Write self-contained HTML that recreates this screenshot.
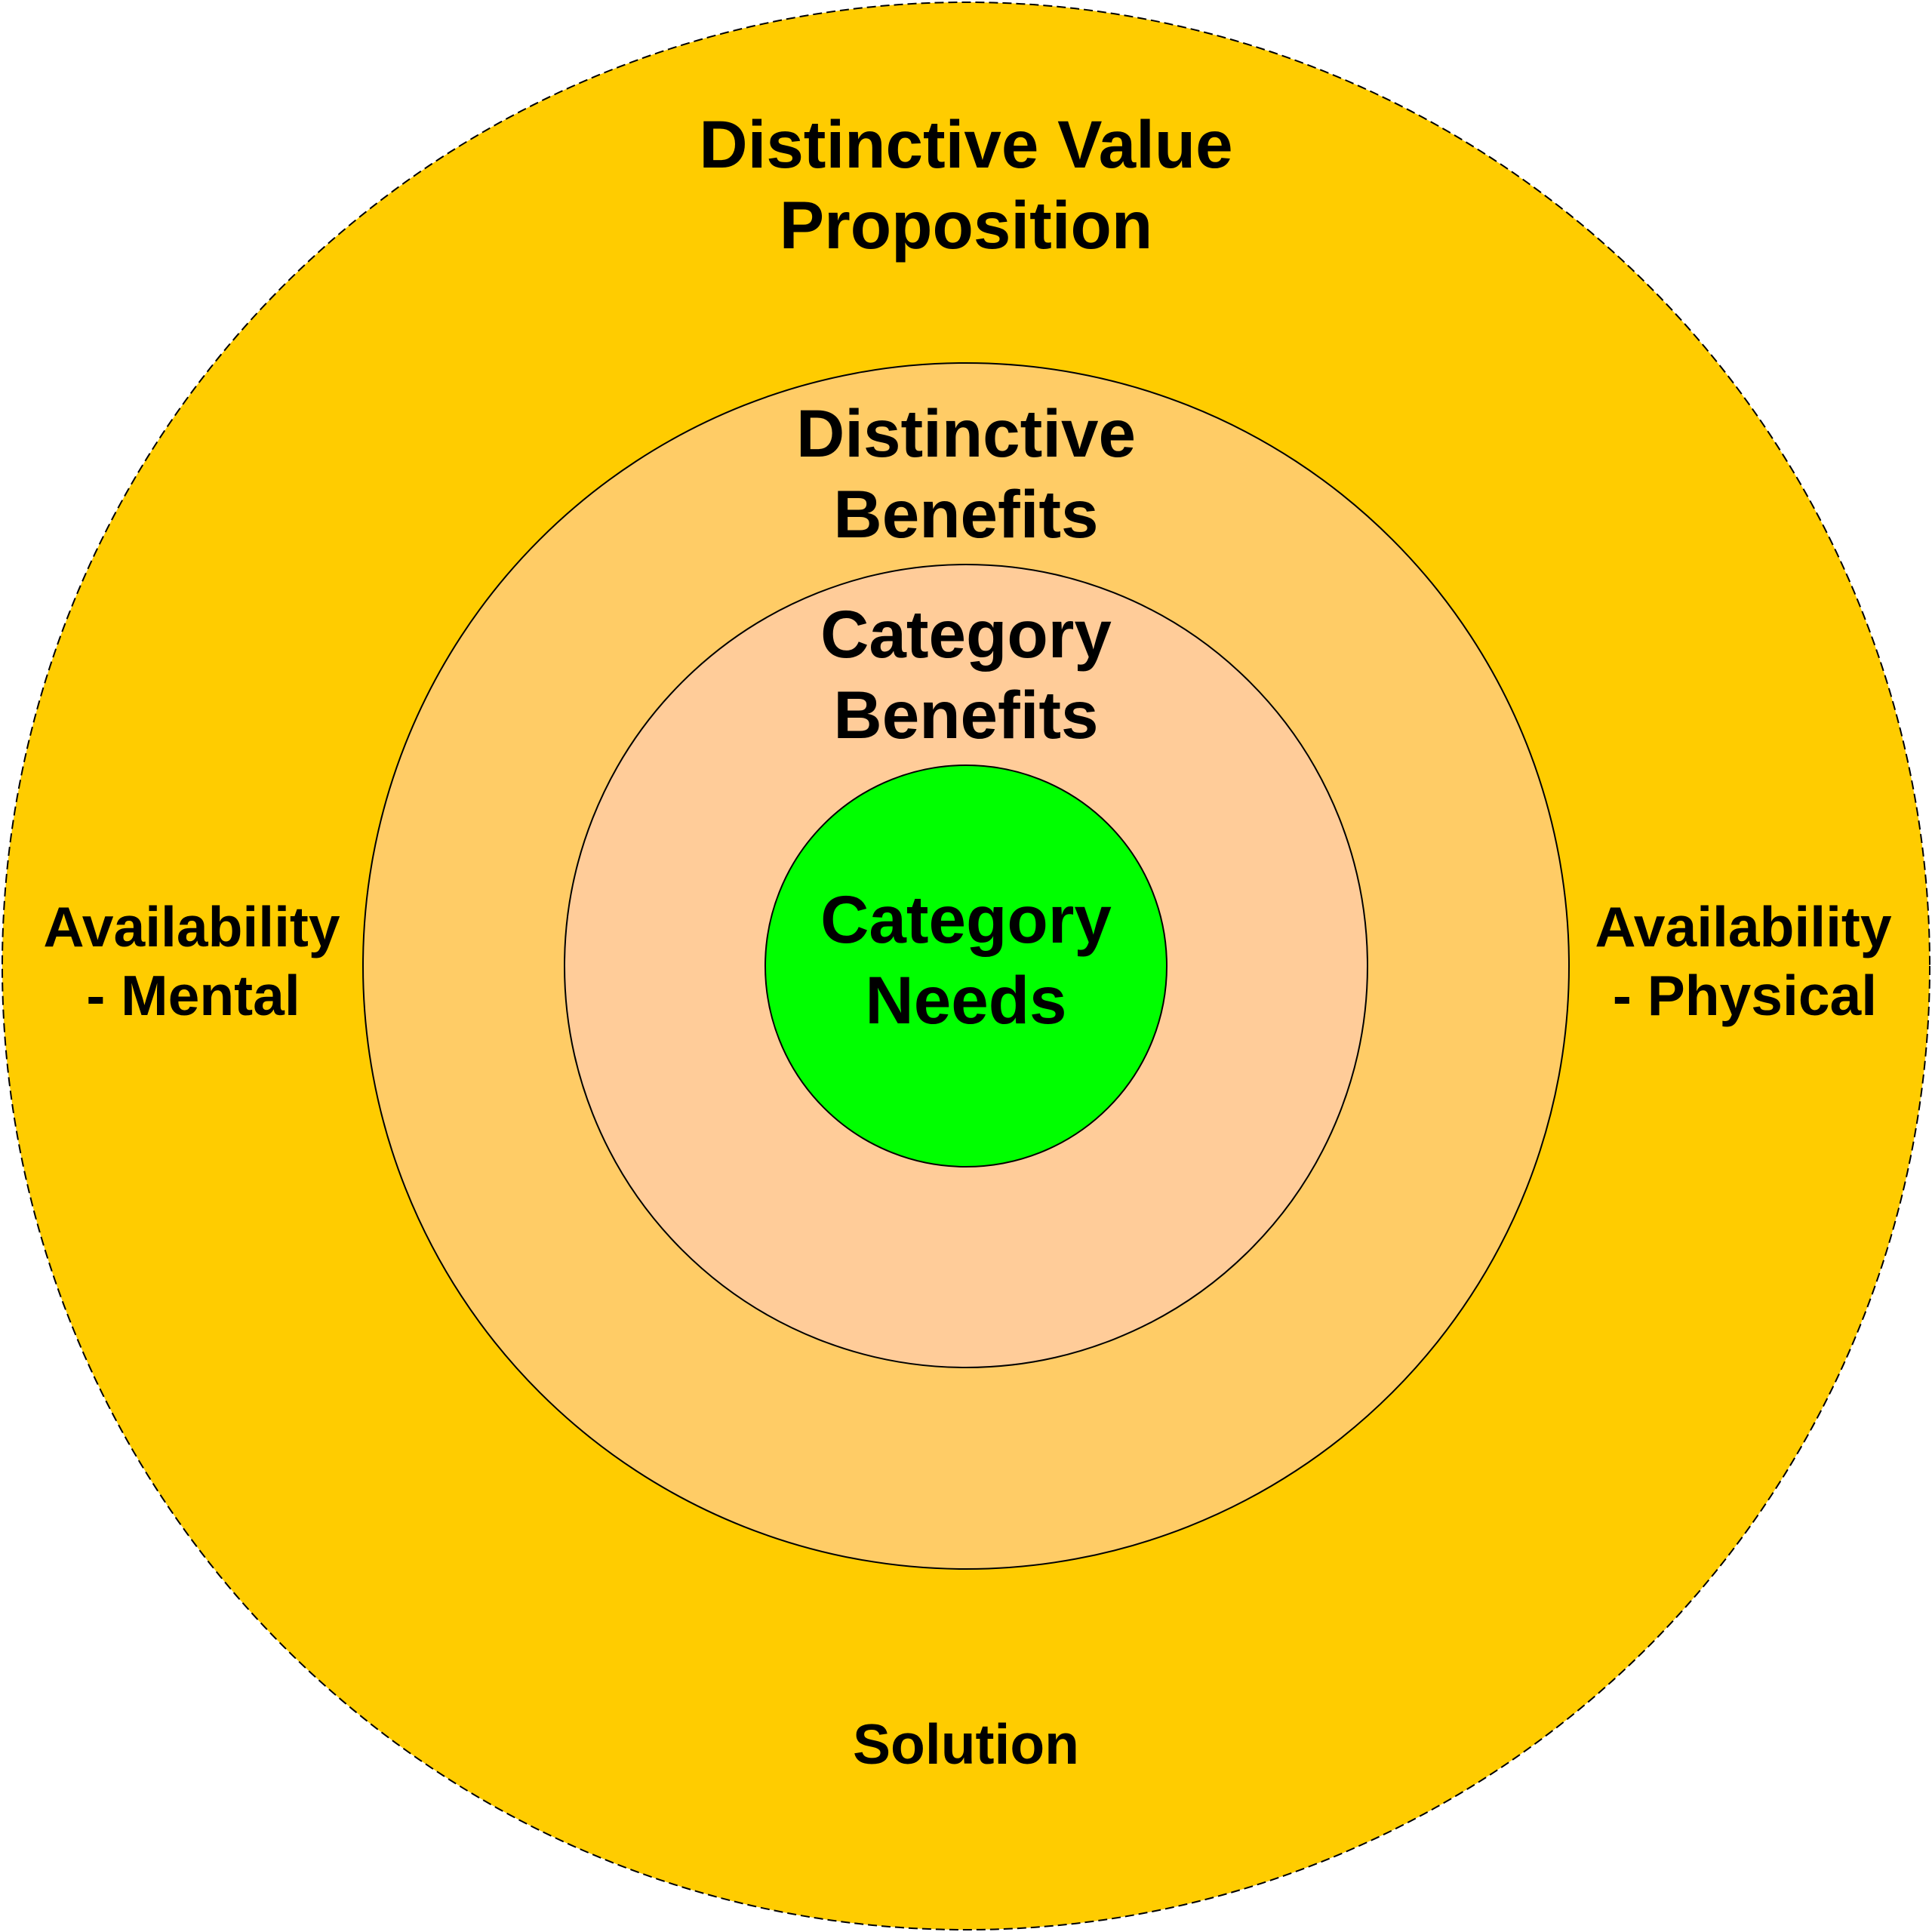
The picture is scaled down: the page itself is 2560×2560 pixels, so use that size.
<!DOCTYPE html>
<html>
<head>
<meta charset="utf-8">
<style>
  html, body { margin: 0; padding: 0; background: #ffffff; }
  svg { display: block; }
  text { font-family: "Liberation Sans", Arial, sans-serif; font-weight: bold; fill: #000; }
</style>
</head>
<body>
<svg width="2560" height="2560" viewBox="0 0 2560 2560" xmlns="http://www.w3.org/2000/svg">
  <rect x="0" y="0" width="2560" height="2560" fill="#ffffff"/>
  <circle cx="1280" cy="1280" r="1277" fill="#FFCC00" stroke="#000" stroke-width="2" stroke-dasharray="12 6"/>
  <circle cx="1280" cy="1280" r="799" fill="#FFCC66" stroke="#000" stroke-width="2"/>
  <circle cx="1280" cy="1280" r="532" fill="#FFCC99" stroke="#000" stroke-width="2"/>
  <circle cx="1280" cy="1280" r="266" fill="#00FF00" stroke="#000" stroke-width="2"/>

  <g font-size="89" text-anchor="middle">
    <text x="1280" y="222">Distinctive Value</text>
    <text x="1280" y="329">Proposition</text>
    <text x="1280" y="605">Distinctive</text>
    <text x="1280" y="712">Benefits</text>
    <text x="1280" y="871">Category</text>
    <text x="1280" y="978">Benefits</text>
    <text x="1280" y="1249">Category</text>
    <text x="1280" y="1356">Needs</text>
  </g>
  <g font-size="75" text-anchor="middle">
    <text x="254" y="1254">Availability</text>
    <text x="256" y="1345">- Mental</text>
    <text x="2310" y="1254">Availability</text>
    <text x="2312" y="1345">- Physical</text>
    <text x="1280" y="2337">Solution</text>
  </g>
</svg>
</body>
</html>
